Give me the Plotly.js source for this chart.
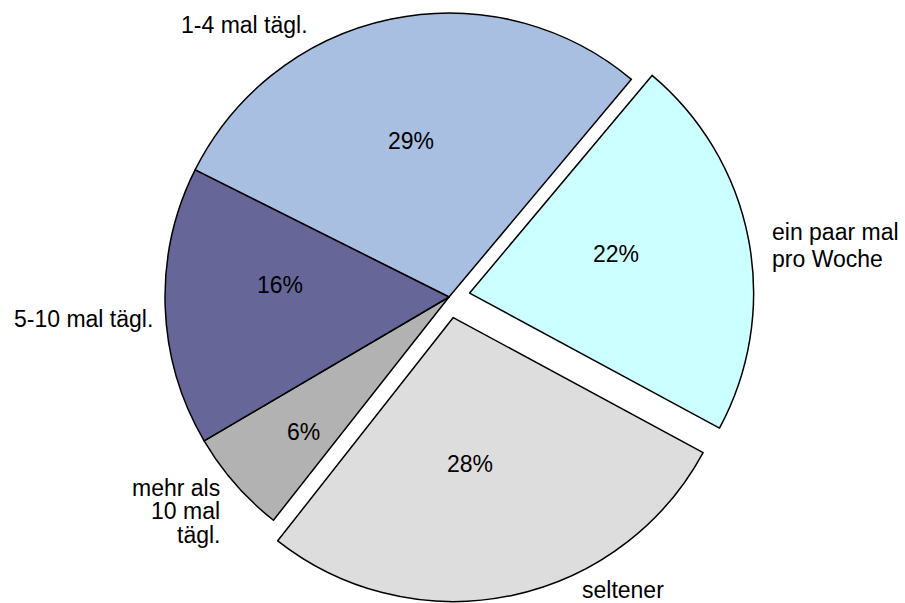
<!DOCTYPE html>
<html>
<head>
<meta charset="utf-8">
<script src="https://cdn.plot.ly/plotly-3.0.1.min.js"></script>
<style>
html, body { margin: 0; padding: 0; overflow: hidden; background: #fff; width: 905px; height: 603px; }
#chart { position: absolute; left: 0; top: -8px; width: 905px; height: 620px; }
</style>
</head>
<body>
<div id="chart"></div>
<script>
// ---- data ----
var categories = ['1-4 mal tägl.', 'ein paar mal pro Woche', 'seltener', 'mehr als 10 mal tägl.', '5-10 mal tägl.'];
var shares = [29, 22, 28, 6, 16];
var labelLines = [['1-4 mal tägl.'], ['ein paar mal', 'pro Woche'], ['seltener'], ['mehr als', '10 mal', 'tägl.'], ['5-10 mal tägl.']];
var pulled = [0, 1, 1, 0, 0];
var colors = ['#A9BFE1', '#CCFFFF', '#DDDDDD', '#B2B2B2', '#666699'];

// ---- layout geometry (pixels) ----
var W = 905, H = 620, offsetTop = 8;
var margin = {l: 0, r: 7, t: 0, b: 10};
var plotW = W - margin.l - margin.r, plotH = H - margin.t - margin.b;
function px2x(px) { return (px - margin.l) / plotW; }
function py2y(py) { return 1 - (py + offsetTop - margin.t) / plotH; }

// outside category label placements: [x, y, xanchor] per line
var labelPlace = [
  [[244.5, 25, 'center']],
  [[770, 231.5, 'left'], [770, 258.5, 'left']],
  [[622.5, 590, 'center']],
  [[222, 487.5, 'right'], [222, 510.5, 'right'], [222, 535, 'right']],
  [[155, 318.5, 'right']]
];
// percentage label placements (centre of text)
var pctPlace = [[411, 141], [616, 254], [470, 464], [303, 432], [280, 285]];

var font = {family: 'Liberation Sans, Arial, sans-serif', size: 23, color: '#000'};

var annotations = [];
labelLines.forEach(function (lines, i) {
  lines.forEach(function (line, j) {
    var p = labelPlace[i][j];
    annotations.push({
      text: line, showarrow: false, xref: 'paper', yref: 'paper',
      x: px2x(p[0]), y: py2y(p[1]), xanchor: p[2], yanchor: 'middle',
      font: font
    });
  });
});
shares.forEach(function (v, i) {
  var p = pctPlace[i];
  annotations.push({
    text: v + '%', showarrow: false, xref: 'paper', yref: 'paper',
    x: px2x(p[0]), y: py2y(p[1]), xanchor: 'center', yanchor: 'middle',
    font: font
  });
});

var trace = {
  type: 'pie',
  labels: categories,
  values: shares,
  sort: false,
  direction: 'clockwise',
  rotation: -63.4,
  pull: pulled.map(function (p) { return p * 0.074; }),
  marker: {colors: colors, line: {color: '#000', width: 1.5}},
  textinfo: 'none',
  hoverinfo: 'label+percent',
  showlegend: false
};

var layout = {
  width: W, height: H,
  margin: margin,
  paper_bgcolor: '#fff',
  plot_bgcolor: '#fff',
  showlegend: false,
  annotations: annotations
};

Plotly.newPlot('chart', [trace], layout, {displayModeBar: false, staticPlot: true});
</script>
</body>
</html>
